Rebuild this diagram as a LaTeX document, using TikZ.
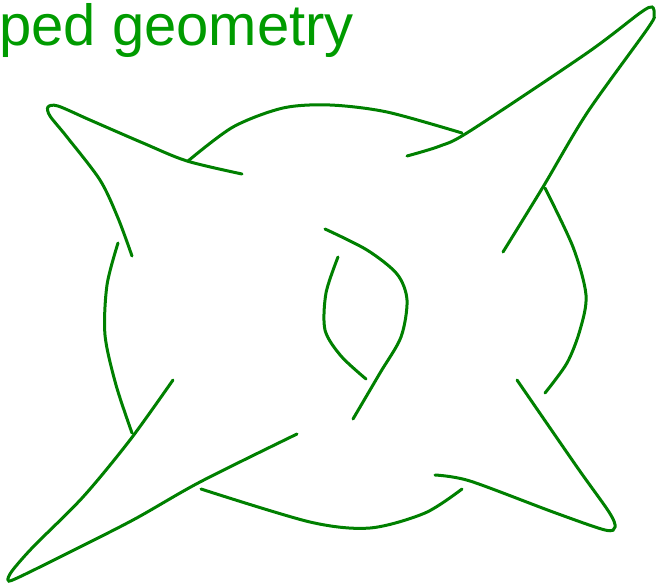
\documentclass[tikz,border=0pt]{standalone}
\usepackage{fontspec}
\newfontfamily\titlefont{Liberation Sans}
\usetikzlibrary{positioning}
\definecolor{knotgreen}{RGB}{0,128,0}
\definecolor{titlegreen}{RGB}{0,155,0}

\begin{document}
\begin{tikzpicture}[x=1pt,y=-1pt,
    knotline/.style={draw=knotgreen,line width=3pt,line cap=round},
    titletext/.style={text=titlegreen,font=\titlefont\fontsize{58}{60}\selectfont,inner sep=0pt}
]
\useasboundingbox (0,0) rectangle (656,587);
% title
\node[titletext,anchor=base west] (title) at (-1,45) {ped geometry};
% top left lobe
\draw[knotline] plot[smooth] coordinates {(242,174) (187,161) (143,143) (90,120) (58,106)
    (48,107) (50,116) (67,137) (100,180) (118,218) (132,256)};
\draw[knotline] plot[smooth] coordinates {(118,243) (107,285) (105,335) (116,385) (132,433)};
% top arc
\draw[knotline] plot[smooth] coordinates {(188,161) (233,127) (283,108) (330,105) (387,112) (462,133)};
% top right lobe
\draw[knotline] plot[smooth] coordinates {(407,156) (440,146) (470,131) (587,53)
    (640,13) (652,7) (654,15) (648,28) (587,113) (543,187) (503,252)};
\draw[knotline] plot[smooth] coordinates {(545,188) (573,247) (586,295) (580,330) (567,363) (545,393)};
% bottom right lobe
\draw[knotline] plot[smooth] coordinates {(517,380) (577,467) (609,512)
    (615,527) (605,530) (553,512) (470,481) (435,475)};
\draw[knotline] plot[smooth] coordinates {(462,489) (425,513) (370,528) (310,522) (201,489)};
% bottom left lobe
\draw[knotline] plot[smooth] coordinates {(297,434) (200,482) (133,520) (60,557)
    (15,579) (8,580) (12,571) (33,547) (83,497) (130,440) (173,380)};
% centre loop
\draw[knotline] plot[smooth] coordinates {(325,229) (367,250) (397,274) (407,300) (401,337) (380,373) (353,419)};
\draw[knotline] plot[smooth] coordinates {(338,257) (326,293) (325,330) (341,356) (366,379)};
\end{tikzpicture}
\end{document}
